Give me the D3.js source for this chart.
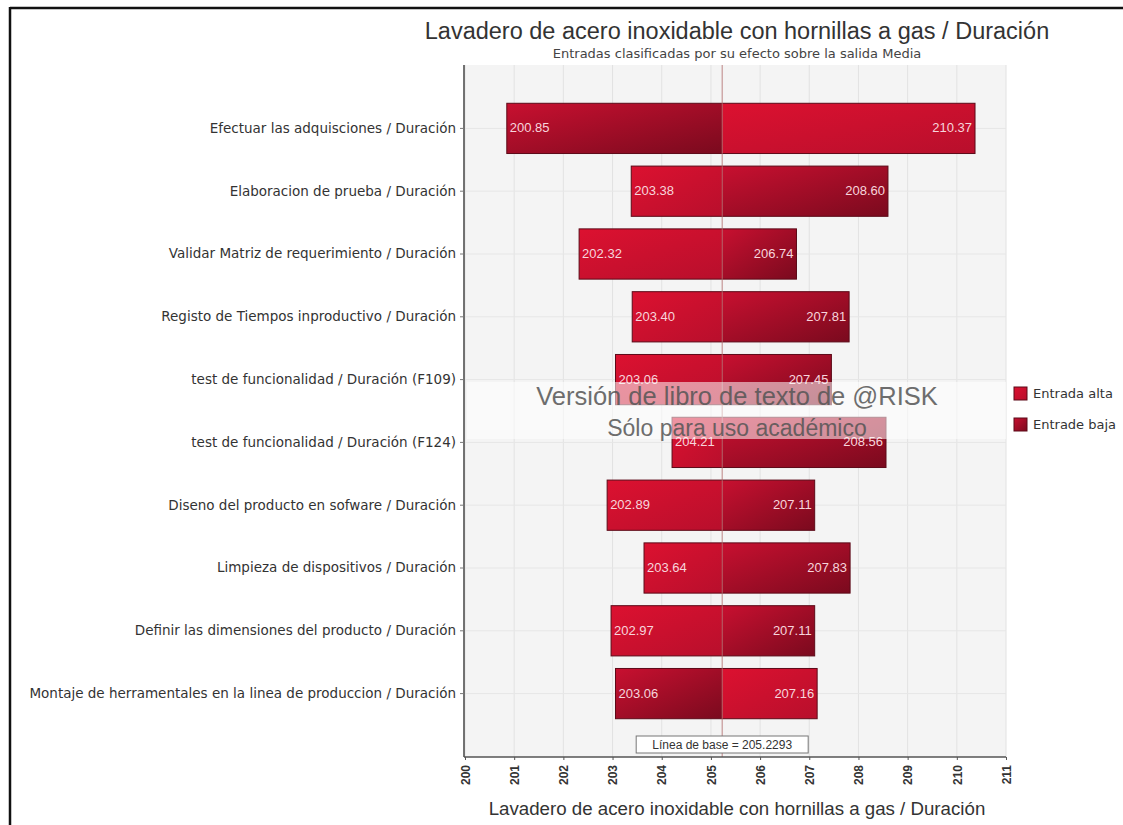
<!DOCTYPE html>
<html>
<head>
<meta charset="utf-8">
<script src="https://cdn.jsdelivr.net/npm/d3@7"></script>
<style>
  body { margin: 0; background: #fff; }
  text { font-family: "Liberation Sans", Arial, sans-serif; }
</style>
</head>
<body>
<div id="chart"></div>
<script>
// data
const categories = [
  "Efectuar las adquisciones / Duración",
  "Elaboracion de prueba / Duración",
  "Validar Matriz de requerimiento / Duración",
  "Registo de Tiempos inproductivo / Duración",
  "test de funcionalidad / Duración (F109)",
  "test de funcionalidad / Duración (F124)",
  "Diseno del producto en sofware / Duración",
  "Limpieza de dispositivos / Duración",
  "Definir las dimensiones del producto / Duración",
  "Montaje de herramentales en la linea de produccion / Duración"
];
const altaValues = [210.37, 203.38, 202.32, 203.40, 203.06, 204.21, 202.89, 203.64, 202.97, 207.16];
const bajaValues = [200.85, 208.60, 206.74, 207.81, 207.45, 208.56, 207.11, 207.83, 207.11, 203.06];
const baseline = 205.2293;
const xTicks = [200, 201, 202, 203, 204, 205, 206, 207, 208, 209, 210, 211];
const seriesNames = ["Entrada alta", "Entrade baja"];

const W = 1123, H = 825;
const svg = d3.select("#chart").append("svg").attr("width", W).attr("height", H);

const plot = {left: 465, right: 1006, top: 65, bottom: 757};
const dv = "'DejaVu Sans', Verdana, sans-serif";

// frame lines (top / left)
svg.append("line").attr("x1", 10).attr("x2", W).attr("y1", 8).attr("y2", 8)
  .attr("stroke", "#111").attr("stroke-width", 2.5);
svg.append("line").attr("x1", 10).attr("x2", 10).attr("y1", 7).attr("y2", H)
  .attr("stroke", "#111").attr("stroke-width", 2.5);

const x = d3.scaleLinear().domain([200, 211]).range([plot.left, plot.right]);
const y = d3.scaleBand().domain(categories).range([97, 725]).paddingInner(0.2).paddingOuter(0.1);

// gradients
const defs = svg.append("defs");
function grad(id, c1, c2) {
  const g = defs.append("linearGradient").attr("id", id)
    .attr("x1", "0%").attr("y1", "0%").attr("x2", "100%").attr("y2", "100%");
  g.append("stop").attr("offset", "0%").attr("stop-color", c1);
  g.append("stop").attr("offset", "100%").attr("stop-color", c2);
}
grad("gAlta", "#dc1130", "#b80f2c");
grad("gBaja", "#c81030", "#7a0a1e");

// plot background
svg.append("rect").attr("x", plot.left).attr("y", plot.top)
  .attr("width", plot.right - plot.left).attr("height", plot.bottom - plot.top)
  .attr("fill", "#f4f4f4");

const g = svg.append("g");

// grid
g.selectAll(".vgrid").data(xTicks).join("line")
  .attr("x1", d => x(d)).attr("x2", d => x(d))
  .attr("y1", plot.top).attr("y2", plot.bottom)
  .attr("stroke", "#e2e2e2");
g.selectAll(".hgrid").data(categories).join("line")
  .attr("x1", plot.left).attr("x2", plot.right)
  .attr("y1", d => y(d) + y.bandwidth() / 2).attr("y2", d => y(d) + y.bandwidth() / 2)
  .attr("stroke", "#e6e6e6");

// segments: each row split at baseline
const rows = categories.map((c, i) => ({cat: c, alta: altaValues[i], baja: bajaValues[i]}));
const segs = [];
rows.forEach(r => {
  segs.push({cat: r.cat, v: r.alta, fill: "url(#gAlta)"});
  segs.push({cat: r.cat, v: r.baja, fill: "url(#gBaja)"});
});

g.selectAll(".seg").data(segs).join("rect")
  .attr("x", d => x(Math.min(d.v, baseline)))
  .attr("width", d => Math.abs(x(d.v) - x(baseline)))
  .attr("y", d => y(d.cat))
  .attr("height", y.bandwidth())
  .attr("fill", d => d.fill);

// outlines
g.selectAll(".outline").data(rows).join("rect")
  .attr("x", d => x(Math.min(d.alta, d.baja)))
  .attr("width", d => Math.abs(x(d.alta) - x(d.baja)))
  .attr("y", d => y(d.cat))
  .attr("height", y.bandwidth())
  .attr("fill", "none").attr("stroke", "#5c0a18").attr("stroke-width", 1);

// baseline line
g.append("line").attr("x1", x(baseline)).attr("x2", x(baseline))
  .attr("y1", plot.top).attr("y2", plot.bottom)
  .attr("stroke", "#b06a6a").attr("stroke-width", 1).attr("opacity", 0.8);

// value labels
rows.forEach(r => {
  const lo = Math.min(r.alta, r.baja), hi = Math.max(r.alta, r.baja);
  const cy = y(r.cat) + y.bandwidth() / 2 + 4;
  g.append("text").attr("x", x(lo) + 3).attr("y", cy)
    .attr("font-size", 13).attr("fill", "#f7d5dc").text(lo.toFixed(2));
  g.append("text").attr("x", x(hi) - 3).attr("y", cy).attr("text-anchor", "end")
    .attr("font-size", 13).attr("fill", "#f7d5dc").text(hi.toFixed(2));
});

// axes
const yAxis = svg.append("g").attr("transform", `translate(${plot.left - 1},0)`)
  .call(d3.axisLeft(y).tickSize(4).tickPadding(4));
yAxis.select(".domain").attr("d", `M0,${plot.top}V${plot.bottom}`).attr("stroke", "#444").attr("stroke-width", 1.5);
yAxis.selectAll(".tick line").attr("stroke", "#777");
yAxis.selectAll(".tick text").attr("font-size", 13.5).attr("fill", "#333")
  .style("font-family", dv);

const xAxis = svg.append("g").attr("transform", `translate(0,${plot.bottom})`)
  .call(d3.axisBottom(x).tickValues(xTicks).tickFormat(d3.format("d")).tickSize(3));
xAxis.select(".domain").attr("d", `M${plot.left - 1},0H${plot.right}`).attr("stroke", "#555").attr("stroke-width", 1.5);
xAxis.selectAll(".tick line").attr("stroke", "#555");
xAxis.selectAll(".tick text")
  .attr("transform", "rotate(-90)")
  .attr("text-anchor", "end")
  .attr("x", -8).attr("y", 0).attr("dy", "0.35em")
  .attr("font-size", 12).attr("font-weight", "bold").attr("fill", "#333");

// baseline label box
const bl = svg.append("g");
bl.append("rect").attr("x", x(baseline) - 86).attr("y", 736).attr("width", 172).attr("height", 17)
  .attr("fill", "#fff").attr("stroke", "#777");
bl.append("text").attr("x", x(baseline)).attr("y", 749).attr("text-anchor", "middle")
  .attr("font-size", 12).attr("fill", "#333").text("Línea de base = " + baseline);

// watermark
svg.append("rect").attr("x", plot.left + 2).attr("y", 382).attr("width", plot.right - plot.left - 2).attr("height", 57)
  .attr("fill", "#fff").attr("opacity", 0.55);
svg.append("text").attr("x", 737).attr("y", 405).attr("text-anchor", "middle")
  .attr("font-size", 25.5).attr("fill", "#555").attr("opacity", 0.85)
  .text("Versión de libro de texto de @RISK");
svg.append("text").attr("x", 737).attr("y", 436).attr("text-anchor", "middle")
  .attr("font-size", 23).attr("fill", "#555").attr("opacity", 0.85)
  .text("Sólo para uso académico");

// titles
svg.append("text").attr("x", 737).attr("y", 39).attr("text-anchor", "middle")
  .attr("font-size", 23.5).attr("fill", "#333")
  .text("Lavadero de acero inoxidable con hornillas a gas / Duración");
svg.append("text").attr("x", 737).attr("y", 58).attr("text-anchor", "middle")
  .attr("font-size", 13).attr("fill", "#444").style("font-family", dv)
  .text("Entradas clasificadas por su efecto sobre la salida Media");
svg.append("text").attr("x", 737).attr("y", 815).attr("text-anchor", "middle")
  .attr("font-size", 18.7).attr("fill", "#333")
  .text("Lavadero de acero inoxidable con hornillas a gas / Duración");

// legend
const legend = svg.append("g").attr("transform", "translate(1014,387)");
legend.selectAll("rect").data(seriesNames).join("rect")
  .attr("x", 0).attr("y", (d, i) => i * 31).attr("width", 13).attr("height", 13)
  .attr("fill", (d, i) => i === 0 ? "url(#gAlta)" : "url(#gBaja)")
  .attr("stroke", "#5c0a18");
legend.selectAll("text").data(seriesNames).join("text")
  .attr("x", 19).attr("y", (d, i) => i * 31 + 11)
  .attr("font-size", 13).attr("fill", "#333").style("font-family", dv).text(d => d);
</script>
</body>
</html>
